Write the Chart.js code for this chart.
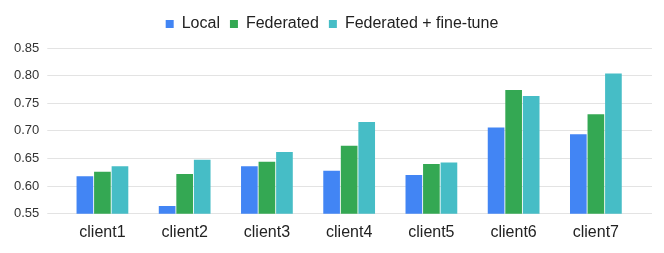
<!DOCTYPE html>
<html>
<head>
<meta charset="utf-8">
<script src="https://cdn.jsdelivr.net/npm/chart.js@4/dist/chart.umd.min.js"></script>
<style>
  html, body { margin: 0; padding: 0; background: #fff; }
  #wrap { width: 664px; height: 253px; }
</style>
</head>
<body>
<div id="wrap"><canvas id="chart"></canvas></div>
<script>
  // Data
  const clients = ["client1", "client2", "client3", "client4", "client5", "client6", "client7"];
  const local = [0.618, 0.564, 0.636, 0.628, 0.620, 0.706, 0.694];
  const federated = [0.626, 0.622, 0.644, 0.673, 0.640, 0.774, 0.730];
  const fineTune = [0.636, 0.648, 0.662, 0.716, 0.643, 0.763, 0.804];
  const yTicks = [0.55, 0.60, 0.65, 0.70, 0.75, 0.80, 0.85];

  const gridColor = "#e3e3e3";
  const font = "'Liberation Sans', Arial, sans-serif";

  const bar = (label, data, color) => ({
    label, data,
    backgroundColor: color,
    borderWidth: 0,
    categoryPercentage: 0.64,
    barPercentage: 0.95
  });

  // a bit of extra room under the legend
  const legendGap = {
    id: "legendGap",
    beforeInit(chart) {
      const fit = chart.legend.fit;
      chart.legend.fit = function () {
        fit.call(this);
        this.height += 6;
      };
    }
  };

  new Chart(document.getElementById("chart"), {
    type: "bar",
    data: {
      labels: clients,
      datasets: [
        bar("Local", local, "#4285f4"),
        bar("Federated", federated, "#34a853"),
        bar("Federated + fine-tune", fineTune, "#46bdc6")
      ]
    },
    plugins: [legendGap],
    options: {
      responsive: true,
      maintainAspectRatio: false,
      animation: false,
      layout: { padding: { left: 12, right: 12, top: 6, bottom: 10 } },
      plugins: {
        tooltip: { enabled: false },
        legend: {
          position: "top",
          labels: {
            boxWidth: 8, boxHeight: 8,
            padding: 10,
            color: "#222",
            font: { family: font, size: 16 }
          }
        }
      },
      scales: {
        x: {
          grid: { display: false },
          border: { display: false },
          ticks: { color: "#222", padding: 1, font: { family: font, size: 16 } }
        },
        y: {
          min: yTicks[0],
          max: yTicks[yTicks.length - 1],
          afterBuildTicks: (s) => { s.ticks = yTicks.map(v => ({ value: v })); },
          afterFit: (s) => { s.width -= 6; },
          grid: { color: gridColor, lineWidth: 1, tickLength: 14, tickColor: gridColor },
          border: { display: false },
          ticks: {
            color: "#333",
            padding: 8,
            font: { family: font, size: 13 },
            callback: (v) => Number(v).toFixed(2)
          }
        },
        yRight: {
          position: "right",
          min: yTicks[0],
          max: yTicks[yTicks.length - 1],
          afterBuildTicks: (s) => { s.ticks = yTicks.map(v => ({ value: v })); },
          grid: { drawOnChartArea: false, tickLength: 15, tickColor: gridColor },
          border: { display: false },
          ticks: { display: false }
        }
      }
    }
  });
</script>
</body>
</html>
